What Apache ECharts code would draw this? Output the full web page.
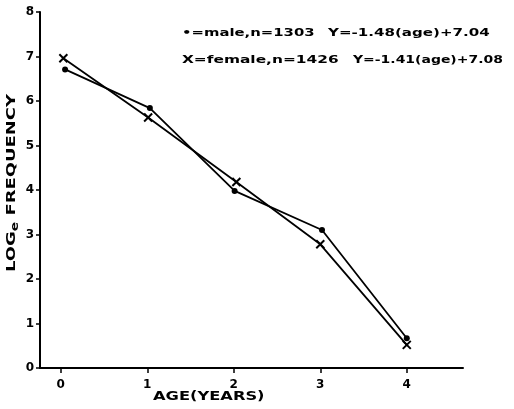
<!DOCTYPE html>
<html><head><meta charset="utf-8">
<script src="https://cdn.jsdelivr.net/npm/echarts@6/dist/echarts.min.js"></script>
<style>html,body{margin:0;padding:0;background:#fff}#c{width:514px;height:409px}</style>
</head><body><div id="c"></div>
<script>
const maleAge = [0.05, 1.03, 2.01, 3.02, 4.0];
const maleLogFreq = [6.71, 5.84, 3.98, 3.10, 0.67];
const femaleAge = [0.03, 1.01, 2.03, 3.0, 4.0];
const femaleLogFreq = [6.96, 5.63, 4.18, 2.78, 0.52];
const xTicks = [0, 1, 2, 3, 4];
const yTicks = [0, 1, 2, 3, 4, 5, 6, 7, 8];
const maleLabel = '\u2022=male,n=1303';
const maleFit = 'Y=-1.48(age)+7.04';
const femaleLabel = 'X=female,n=1426';
const femaleFit = 'Y=-1.41(age)+7.08';
const xName = 'AGE(YEARS)';

const FONT = '"DejaVu Sans", sans-serif';
const xPath = 'path://M0,0L10,10M10,0L0,10';
const chart = echarts.init(document.getElementById('c'), null, {renderer: 'canvas'});
function txt(s, x, y, sx, size, extra) {
  return Object.assign({type: 'text', x: x, y: y, scaleX: sx,
    style: {text: s, fill: '#000', font: 'bold ' + size + 'px ' + FONT, verticalAlign: 'middle'}}, extra || {});
}
chart.setOption({
  animation: false,
  backgroundColor: '#fff',
  grid: {left: 40, right: 51, top: 12, bottom: 41},
  xAxis: {
    type: 'value', min: -0.24, max: 4.65,
    axisLine: {onZero: false, lineStyle: {color: '#000', width: 2}},
    axisTick: {show: true, customValues: xTicks, length: 5, lineStyle: {color: '#000', width: 1.5}},
    axisLabel: {customValues: xTicks, color: '#000', fontWeight: 'bold', fontSize: 12, fontFamily: FONT, margin: 11},
    splitLine: {show: false}
  },
  yAxis: {
    type: 'value', min: 0, max: 8, interval: 1,
    axisLine: {show: true, onZero: false, lineStyle: {color: '#000', width: 2}},
    axisTick: {show: true, length: 4, lineStyle: {color: '#000', width: 1.5}},
    axisLabel: {color: '#000', fontWeight: 'bold', fontSize: 12, fontFamily: FONT, margin: 6},
    splitLine: {show: false}
  },
  series: [
    {type: 'line', data: maleAge.map((a, i) => [a, maleLogFreq[i]]),
     symbol: 'circle', symbolSize: 6, lineStyle: {color: '#000', width: 1.8},
     itemStyle: {color: '#000'}},
    {type: 'line', data: femaleAge.map((a, i) => [a, femaleLogFreq[i]]),
     symbol: xPath, symbolSize: 8, lineStyle: {color: '#000', width: 1.8},
     itemStyle: {color: 'none', borderColor: '#000', borderWidth: 2}}
  ],
  graphic: [
    txt(maleLabel, 182, 33, 1.35, 11),
    txt(maleFit, 328, 33, 1.37, 11),
    txt(femaleLabel, 182, 60, 1.4, 11),
    txt(femaleFit, 353, 60, 1.27, 11),
    txt(xName, 153, 397, 1.25, 13),
    {type: 'text', x: 12, y: 183, rotation: Math.PI / 2, scaleX: 1.38,
     style: {text: 'LOG{s|e} FREQUENCY', fill: '#000', font: 'bold 13px ' + FONT,
       align: 'center', verticalAlign: 'middle',
       rich: {s: {fontSize: 10, fontWeight: 'bold', fontFamily: FONT, fill: '#000', verticalAlign: 'bottom', padding: [6, 0, 0, 0]}}}}
  ]
});
</script></body></html>
